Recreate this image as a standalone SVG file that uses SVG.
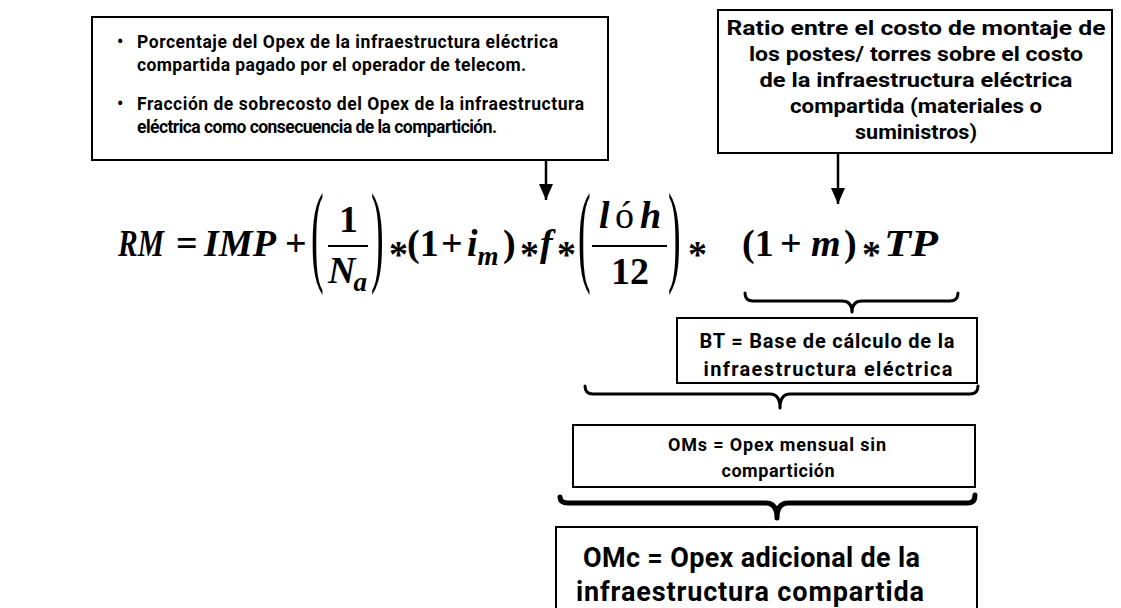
<svg xmlns="http://www.w3.org/2000/svg" width="1121" height="608" viewBox="0 0 1121 608">
<style>
.box{fill:#fff;stroke:#000;stroke-width:2}
.t{font-family:Roboto,"Noto Sans",sans-serif;font-weight:700;fill:#000}
.m{font-family:"Liberation Serif",serif;font-weight:700;font-size:38px;fill:#000}
.i{font-style:italic}
.p{font-weight:400}
.sub{font-size:27px}
.conn{stroke:#000;stroke-width:2.5;fill:none}
.brace{stroke:#000;fill:none;stroke-linecap:round;stroke-linejoin:round}
</style>
<defs>
<marker id="arrow" markerWidth="14" markerHeight="16" refX="7" refY="16" orient="0" markerUnits="userSpaceOnUse" viewBox="0 0 14 16">
<path d="M0,0 L14,0 L7,16 Z" fill="#000"/>
</marker>
</defs>

<g id="note-f">
<rect class="box" x="92" y="17" width="516" height="143"/>
<text class="t" font-size="17.5" x="117" y="48">•</text>
<text class="t" font-size="17.5" x="137" y="48" textLength="421">Porcentaje del Opex de la infraestructura eléctrica</text>
<text class="t" font-size="17.5" x="137" y="71" textLength="389">compartida pagado por el operador de  telecom.</text>
<text class="t" font-size="17.5" x="117" y="110">•</text>
<text class="t" font-size="17.5" x="137" y="110" textLength="447">Fracción de sobrecosto del Opex de la infraestructura</text>
<text class="t" font-size="17.5" x="137" y="133" textLength="360">eléctrica como consecuencia de la compartición.</text>
</g>

<g id="note-m">
<rect class="box" x="718" y="10" width="394" height="143"/>
<text class="t" font-size="20" text-anchor="middle" x="916" y="35" textLength="379" lengthAdjust="spacingAndGlyphs">Ratio entre el costo de montaje de</text>
<text class="t" font-size="20" text-anchor="middle" x="916" y="61" textLength="334" lengthAdjust="spacingAndGlyphs">los postes/ torres sobre el costo</text>
<text class="t" font-size="20" text-anchor="middle" x="916" y="87" textLength="313" lengthAdjust="spacingAndGlyphs">de la infraestructura eléctrica</text>
<text class="t" font-size="20" text-anchor="middle" x="916" y="113" textLength="252" lengthAdjust="spacingAndGlyphs">compartida (materiales o</text>
<text class="t" font-size="20" text-anchor="middle" x="916" y="139" textLength="122" lengthAdjust="spacingAndGlyphs">suministros)</text>
</g>

<g id="formula">
<text class="m i" x="118" y="256" textLength="46" lengthAdjust="spacingAndGlyphs">RM</text>
<text class="m" x="176" y="256">=</text>
<text class="m i" x="204" y="256" textLength="72" lengthAdjust="spacingAndGlyphs">IMP</text>
<text class="m" x="285" y="256">+</text>
<text class="m p" x="311" y="92" transform="scale(1,2.95)">(</text>
<text class="m" x="339" y="232">1</text>
<line x1="328" y1="246" x2="368" y2="246" stroke="#000" stroke-width="2"/>
<text class="m i" x="328" y="283">N<tspan class="sub" dy="8" dx="-2">a</tspan></text>
<text class="m p" x="371" y="92" transform="scale(1,2.95)">)</text>
<text class="m" x="389" y="267">*</text>
<text class="m" x="407" y="256">(1</text>
<text class="m" x="441" y="256">+</text>
<text class="m i" x="467" y="256">i<tspan class="sub" dy="9">m</tspan></text>
<text class="m" x="503" y="256">)</text>
<text class="m" x="520" y="267">*</text>
<text class="m i" x="540" y="256">f</text>
<text class="m" x="557" y="267">*</text>
<text class="m p" x="578" y="92" transform="scale(1,2.95)">(</text>
<text class="m i" x="599" y="228">l</text>
<text class="m p" x="615" y="228">ó</text>
<text class="m i" x="640" y="228">h</text>
<line x1="592" y1="246" x2="667" y2="246" stroke="#000" stroke-width="2"/>
<text class="m" x="611" y="284">12</text>
<text class="m p" x="668" y="92" transform="scale(1,2.95)">)</text>
<text class="m" x="688" y="267">*</text>
<text class="m" x="742" y="256">(1</text>
<text class="m" x="780" y="256">+</text>
<text class="m i" x="811" y="256">m</text>
<text class="m" x="844" y="256">)</text>
<text class="m" x="862" y="267">*</text>
<text class="m i" x="884" y="256" textLength="54" lengthAdjust="spacingAndGlyphs">TP</text>
</g>

<g id="connectors">
<line class="conn" x1="546" y1="160" x2="546" y2="200" marker-end="url(#arrow)"/>
<line class="conn" x1="838" y1="153" x2="838" y2="204" marker-end="url(#arrow)"/>
<path class="brace" stroke-width="3" d="M745,293 Q745,301 753,301 L842,301 Q852,301 852,312 Q852,301 862,301 L950,301 Q958,301 958,293"/>
<path class="brace" stroke-width="3" d="M585,386 Q585,394 593,394 L770,394 Q780,394 780,408 Q780,394 790,394 L970,394 Q978,394 978,386"/>
<path class="brace" stroke-width="5" d="M560,497 Q560,503 568,503 L766,503 Q777,503 777,518 Q777,503 788,503 L968,503 Q975,503 975,495"/>
</g>

<g id="bt">
<rect class="box" x="677" y="318" width="300" height="65"/>
<text class="t" font-size="20" text-anchor="middle" x="827" y="348" textLength="255">BT = Base de cálculo de la</text>
<text class="t" font-size="20" text-anchor="middle" x="828" y="376" textLength="249">infraestructura eléctrica</text>
</g>

<g id="oms">
<rect class="box" x="573" y="425" width="402" height="62"/>
<text class="t" font-size="18" text-anchor="middle" x="777" y="451" textLength="218">OMs = Opex mensual sin</text>
<text class="t" font-size="18" text-anchor="middle" x="778" y="477" textLength="113">compartición</text>
</g>

<g id="omc">
<rect class="box" x="556" y="527" width="421" height="90"/>
<text class="t" font-size="27" x="583" y="567" textLength="337">OMc = Opex adicional de la</text>
<text class="t" font-size="27" x="576" y="601" textLength="348">infraestructura compartida</text>
</g>
</svg>
